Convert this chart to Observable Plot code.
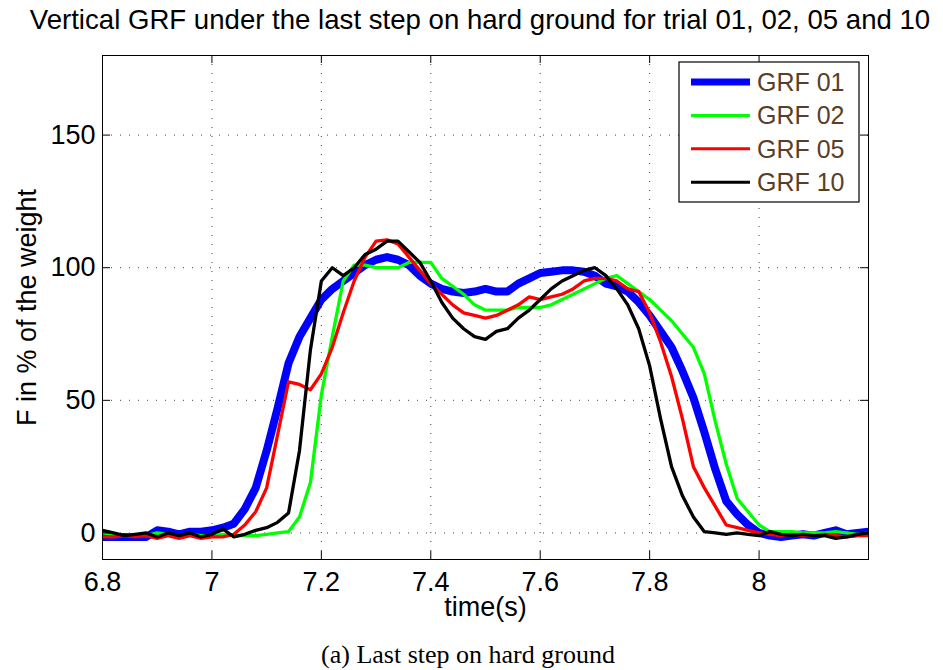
<!DOCTYPE html>
<html>
<head>
<meta charset="utf-8">
<script src="https://cdn.jsdelivr.net/npm/d3@7"></script>
<script src="https://cdn.jsdelivr.net/npm/@observablehq/plot@0.6"></script>
<style>
  body { margin: 0; background: #fff; }
  #wrap { position: relative; width: 943px; height: 670px; overflow: hidden; background: #fff; }
  #title { position: absolute; left: 0; top: 4px; width: 943px; padding-left: 17px; box-sizing: border-box;
           text-align: center; font: 27.6px "Liberation Sans", Arial, sans-serif; color: #000; white-space: nowrap; }
  #chart { position: absolute; left: 0; top: 45px; }
  #caption { position: absolute; left: 0; top: 640px; width: 943px; padding-right: 7px; box-sizing: border-box;
             text-align: center; font: 26px "Liberation Serif", "Times New Roman", serif; color: #000; white-space: nowrap; }
</style>
</head>
<body>
<div id="wrap">
  <div id="title">Vertical GRF under the last step on hard ground for trial 01, 02, 05 and 10</div>
  <div id="chart"></div>
  <div id="caption">(a) Last step on hard ground</div>
</div>
<script>
// ---- data ----
const time = [6.80,6.82,6.84,6.86,6.88,6.90,6.92,6.94,6.96,6.98,
              7.00,7.02,7.04,7.06,7.08,7.10,7.12,7.14,7.16,7.18,
              7.20,7.22,7.24,7.26,7.28,7.30,7.32,7.34,7.36,7.38,
              7.40,7.42,7.44,7.46,7.48,7.50,7.52,7.54,7.56,7.58,
              7.60,7.62,7.64,7.66,7.68,7.70,7.72,7.74,7.76,7.78,
              7.80,7.82,7.84,7.86,7.88,7.90,7.92,7.94,7.96,7.98,
              8.00,8.02,8.04,8.06,8.08,8.10,8.12,8.14,8.16,8.18,8.20];

const grf01 = [-1.5,-1.5,-1.5,-1.5,-1.5,1,0.5,-0.5,0.5,0.5,
               1,2,3.5,9,17,31,47,64,74,81,
               88,92,95,98,101,103,104,103,101,97,
               94,92,91,90.5,91,92,91,91,94,96,
               98,98.5,99,99,98.5,97,94,93,91,87,
               82,76,70,61,51,38,24,12,7,3,
               0,-1,-1.5,-1,-0.5,-1,0,1,-0.5,0,0.5];

const grf02 = [0,-0.5,-1,-0.5,-1,0,-0.5,-1,-0.5,-1,
               -1,-0.5,-1,-1,-1,-0.5,0,0.5,6,19,
               52,74,95,101,101,100,100,100,102,102,
               102,96,93,90,86,84,84,84,85,85,
               85,86,88,90,92,94,96,97,94,91,
               88,84,80,75,70,60,42,26,13,8,
               3,0.5,0.5,0.5,0,0,0,0.5,0,-0.5,0];

const grf05 = [-1.5,-1.5,-1,-1.5,-1,-2,-1,-2,-1,-2,
               -1.5,-1.5,-0.5,3,8,17,37,57,56,54,
               60,70,83,95,104,110,110.5,109,104,99,
               94,90,86,83,82,81,82,84,86,89,
               88,89,90,92,95,96,96,95,92,91,
               83,72,59,43,25,17,10,3,2,1,
               0,-0.5,-1,-0.5,-1,-1,-0.5,-1,-1.5,-1,-1];

const grf10 = [1,0,-1,-0.5,0,-1.5,0,-1,0,-1.5,
               -0.5,1.5,-1.5,-0.5,1,2,4,7.5,31,69,
               95,100,97,100,105,107,110,110,106,102,
               95,87,81,77,74,73,76,77,81,84,
               88,92,95,97,99,100,97,92,86,77,
               63,43,25,14,6,0.5,0,-0.5,0,-0.5,
               -1,0.5,-0.5,-1,-0.5,-1,-1,-2,-1.5,-0.5,0];

const seriesNames  = ["GRF 01", "GRF 02", "GRF 05", "GRF 10"];
const seriesValues = [grf01, grf02, grf05, grf10];
const seriesColors = ["#0000ff", "#00ff00", "#ff0000", "#000000"];
const seriesWidths = [8, 3.3, 3.3, 3.3];

const xTicks = [6.8, 7, 7.2, 7.4, 7.6, 7.8, 8];
const xTickLabels = ["6.8", "7", "7.2", "7.4", "7.6", "7.8", "8"];
const yTicks = [0, 50, 100, 150];
const yTickLabels = ["0", "50", "100", "150"];

const titleX = "time(s)";
const titleY = "F in % of the weight";

// ---- layout ----
const W = 943, H = 585;
const mL = 102, mR = 75, mT = 10, mB = 71;
const plotW = W - mL - mR, plotH = H - mT - mB;
const tickLen = 8;
const FONT = '"Liberation Sans", Arial, sans-serif';

const rows = [];
seriesNames.forEach((name, s) => {
  time.forEach((t, i) => rows.push({series: name, t, v: seriesValues[s][i]}));
});

const lineMarks = seriesNames.map((name, s) =>
  Plot.line(rows.filter(r => r.series === name), {
    x: "t", y: "v", stroke: seriesColors[s], strokeWidth: seriesWidths[s],
    strokeLinejoin: "round", strokeLinecap: "butt"
  })
);

const chart = Plot.plot({
  width: W, height: H,
  marginLeft: mL, marginRight: mR, marginTop: mT, marginBottom: mB,
  style: {fontFamily: FONT, fontSize: "27px", color: "#000", background: "#fff", overflow: "visible"},
  x: {domain: [6.8, 8.2], ticks: xTicks, label: null},
  y: {domain: [-10, 180], ticks: yTicks, label: null},
  marks: [
    Plot.gridX(xTicks, {stroke: "#000", strokeOpacity: 0.75, strokeDasharray: "1,8"}),
    Plot.gridY(yTicks, {stroke: "#000", strokeOpacity: 0.75, strokeDasharray: "1,8"}),
    ...lineMarks,
    // inward ticks on all four sides
    Plot.tickX(xTicks, {x: d => d, insetTop: plotH - tickLen, stroke: "#000"}),
    Plot.tickX(xTicks, {x: d => d, insetBottom: plotH - tickLen, stroke: "#000"}),
    Plot.tickY(yTicks, {y: d => d, insetRight: plotW - tickLen, stroke: "#000"}),
    Plot.tickY(yTicks, {y: d => d, insetLeft: plotW - tickLen, stroke: "#000"}),
    Plot.axisX(xTicks, {tickSize: 0, tickPadding: 12, fontSize: 27, label: null,
      tickFormat: (d) => xTickLabels[xTicks.indexOf(d)]}),
    Plot.axisY(yTicks, {tickSize: 0, tickPadding: 7, fontSize: 27, label: null,
      tickFormat: (d) => yTickLabels[yTicks.indexOf(d)]}),
    Plot.text([titleX], {text: d => d, frameAnchor: "bottom", dy: 48, lineAnchor: "middle", fontSize: 27, fill: "#000"}),
    Plot.text([titleY], {text: d => d, frameAnchor: "left", dx: -75, rotate: -90, lineAnchor: "middle", textAnchor: "middle", fontSize: 27, fill: "#000"}),
    Plot.frame({stroke: "#000", strokeWidth: 1})
  ]
});

document.getElementById("chart").appendChild(chart);

// ---- legend inside the plot, top right ----
const svg = d3.select(chart);
const boxW = 180, boxH = 140;
const boxX = W - mR - 9 - boxW;
const boxY = mT + 7;
const lg = svg.append("g").attr("class", "legend");
lg.append("rect").attr("x", boxX).attr("y", boxY).attr("width", boxW).attr("height", boxH)
  .attr("fill", "#fff").attr("stroke", "#000").attr("stroke-width", 1.2);
seriesNames.forEach((name, s) => {
  const cy = boxY + 20 + s * 33.4;
  lg.append("line").attr("x1", boxX + 12).attr("x2", boxX + 71).attr("y1", cy).attr("y2", cy)
    .attr("stroke", seriesColors[s]).attr("stroke-width", s === 0 ? 7 : 3);
  lg.append("text").attr("x", boxX + 78).attr("y", cy).attr("dy", "0.36em")
    .attr("text-anchor", "start")
    .attr("font-family", FONT).attr("font-size", 25).attr("fill", "#5a3e26").text(name);
});
</script>
</body>
</html>
